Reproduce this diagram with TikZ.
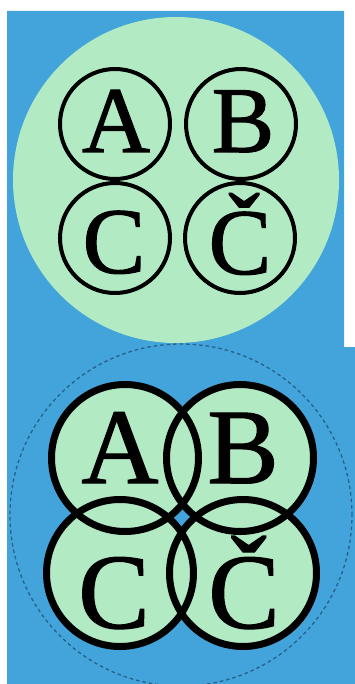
\documentclass[tikz,border=0pt]{standalone}
\usepackage{fontspec}
\setmainfont{Liberation Serif}
\newfontfamily\heavyserif[FakeBold=1.2]{Liberation Serif}
\definecolor{bgblue}{RGB}{66,164,218}
\definecolor{pale}{RGB}{178,234,196}
\definecolor{dashblue}{RGB}{40,96,140}
\tikzset{
  smallring/.style={circle,draw=black,line width=4pt,minimum size=110pt,inner sep=0pt},
  bigring/.style={circle,draw=black,line width=7pt,minimum size=147pt,inner sep=0pt},
  toplet/.style={anchor=base,inner sep=0pt,font=\heavyserif\fontsize{94}{94}\selectfont},
  botlet/.style={anchor=base,inner sep=0pt,font=\heavyserif\fontsize{107}{107}\selectfont}
}
\begin{document}
\begin{tikzpicture}[x=1pt,y=-1pt]
\useasboundingbox (0,0) rectangle (355,684);
\fill[white] (0,0) rectangle (355,684);
\fill[bgblue] (7,11) -- (344,11) -- (344,347) -- (355,347) -- (355,684) -- (7,684) -- cycle;
% top panel
\fill[pale] (176,180) circle[radius=163pt];
\node[smallring] (ra) at (115,124) {};
\node[smallring] (rb) at (241,124) {};
\node[smallring] (rc) at (115,238) {};
\node[smallring] (rd) at (240,238) {};
\node[toplet] (la) at (116,152) {A};
\node[toplet] (lb) at (243,152) {B};
\node[toplet] (lc) at (114,273) {C};
\node[toplet] (ld) at (240,274) {Č};
% bottom panel
\draw[dashblue,line width=1.3pt,dash pattern=on 3.5pt off 3pt] (181,515) circle[radius=171pt];
\fill[pale] (125,458) circle[radius=74pt] (240,458) circle[radius=74pt]
            (120,573) circle[radius=74pt] (243,573) circle[radius=74pt];
\node[bigring] (ba) at (125,458) {};
\node[bigring] (bb) at (240,458) {};
\node[bigring] (bc) at (120,573) {};
\node[bigring] (bd) at (243,573) {};
\node[botlet] (ta) at (120,483) {A};
\node[botlet] (tb) at (243,483) {B};
\node[botlet] (tc) at (114,628) {C};
\node[botlet] (td) at (244,628) {Č};
\end{tikzpicture}
\end{document}
